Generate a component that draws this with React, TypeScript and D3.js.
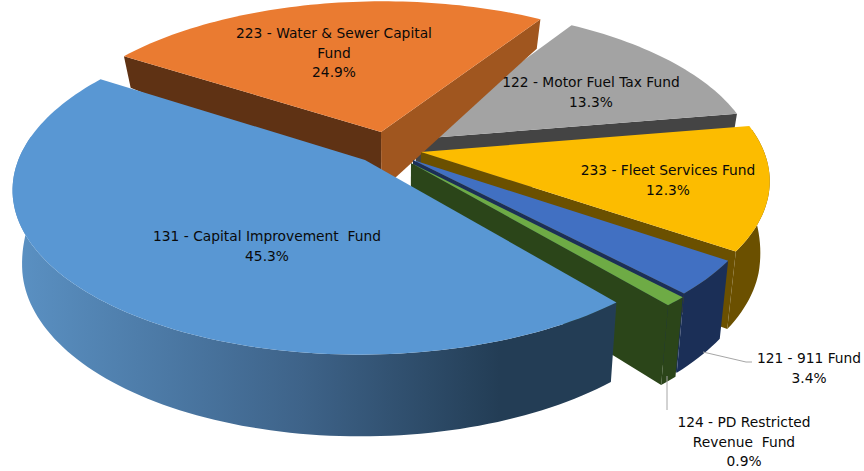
import React from "react";
import * as d3 from "d3";

const names = ["131 - Capital Improvement Fund","223 - Water & Sewer Capital Fund","122 - Motor Fuel Tax Fund","233 - Fleet Services Fund","121 - 911 Fund","124 - PD Restricted Revenue Fund"];
const shares = [45.3, 24.9, 13.3, 12.3, 3.4, 0.9];
const topColors = ["#5997d3", "#ea7b31", "#a3a3a3", "#fcbc00", "#4170c2", "#6eab45"];
const rimColors = ["url(#rimBlue)", "#5f3214", "#444444", "#6b5000", "#1b2f57", "#2b4519"];
const startWall = ["#2b4519", "#5f3214", "#a0561f", "#444444", "#6b5000", "#1b2f57"];
const endWall = ["#2b4519", "#a0561f", "#444444", "#6b5000", "#1b2f57", "#2b4519"];
// screen offset of each exploded slice's tip from the pie centre, and its radius factor
const explodeX = [-28, -12, 23, 28, 20, 18];
const explodeY = [12, -16, -9, 4, 12, 15];
const radiusScale = [1.007, 1, 0.995, 1.005, 1, 1];
const paintOrder = [2, 1, 3, 4, 5, 0];
const labelLines = [
  ["131 - Capital Improvement  Fund", "45.3%"],
  ["223 - Water & Sewer Capital", "Fund", "24.9%"],
  ["122 - Motor Fuel Tax Fund", "13.3%"],
  ["233 - Fleet Services Fund", "12.3%"],
  ["121 - 911 Fund", "3.4%"],
  ["124 - PD Restricted", "Revenue  Fund", "0.9%"],
];
const labelX = [267, 334, 591, 668, 809, 744];
const labelY = [236, 33, 82, 170, 358, 422];

const W = 864, H = 471;
const CX = 393, CY = 148, RX = 340, RY = 157, K = 0.164, SHRINK = 0.025;
const depth = d3.scaleLinear().domain([-1, -0.6, 0, 0.3, 1]).range([29, 32, 64, 75, 81]);

const unproject = (sx: number, sy: number) => {
  const v = sy / (RY + K * sy);
  return [(sx * (1 - K * v)) / RX, v];
};
const top = (u: number, v: number): [number, number] => {
  const w = 1 - K * v;
  return [CX + (RX * u) / w, CY + (RY * v) / w];
};
const bottom = (u: number, v: number): [number, number] => {
  const [x, y] = top(u, v);
  return [CX + (x - CX) * (1 - SHRINK), y + depth(v)];
};

const start = (140 * Math.PI) / 180;
const pie = d3.pie<number>().sort(null).startAngle(start).endAngle(start + 2 * Math.PI);
const arcs = pie(shares);
const line = d3.line<[number, number]>();

const polys = arcs.map((a, i) => {
  const [ox, oy] = unproject(explodeX[i], explodeY[i]);
  const t0 = a.startAngle - Math.PI / 2;
  const t1 = a.endAngle - Math.PI / 2;
  const n = Math.max(2, Math.ceil((t1 - t0) * 40));
  const angles = d3.range(n + 1).map((k) => t0 + ((t1 - t0) * k) / n);
  const pts = angles.map((t) => [ox + radiusScale[i] * Math.cos(t), oy + radiusScale[i] * Math.sin(t)] as [number, number]);
  const topRim = pts.map(([u, v]) => top(u, v));
  const botRim = pts.map(([u, v]) => bottom(u, v));
  const front = d3.range(n + 1).filter((k) => Math.sin(angles[k]) > -0.15);
  const tipT = top(ox, oy);
  const tipB = bottom(ox, oy);
  return {
    top: line([tipT, ...topRim])! + "Z",
    rim: front.length > 1
      ? line([...front.map((k) => topRim[k]), ...front.slice().reverse().map((k) => botRim[k])])! + "Z"
      : null,
    start: Math.cos(t0) < 0 ? line([tipT, topRim[0], botRim[0], tipB])! + "Z" : null,
    end: Math.cos(t1) > 0 ? line([tipT, topRim[n], botRim[n], tipB])! + "Z" : null,
  };
});

export default function App() {
  return (
    <svg width={W} height={H} style={{ position: "absolute", left: 0, top: 0, background: "#fff" }}>
      <defs>
        <linearGradient id="rimBlue" gradientUnits="userSpaceOnUse" x1={20} x2={620} y1={0} y2={0}>
          <stop offset="0" stopColor="#5a90c2" />
          <stop offset="0.47" stopColor="#3e6389" />
          <stop offset="0.8" stopColor="#233d55" />
          <stop offset="1" stopColor="#233d55" />
        </linearGradient>
      </defs>
      {paintOrder.map((i) => (
        <g key={names[i]}>
          {polys[i].rim && <path d={polys[i].rim!} fill={rimColors[i]} />}
          {polys[i].start && <path d={polys[i].start!} fill={startWall[i]} />}
          {polys[i].end && <path d={polys[i].end!} fill={endWall[i]} />}
          <path d={polys[i].top} fill={topColors[i]} />
        </g>
      ))}
      <path d="M703,352L746,362L752,362" fill="none" stroke="#a6a6a6" strokeWidth={1} />
      <path d="M667,376L667,410" fill="none" stroke="#a6a6a6" strokeWidth={1} />
      <g fontFamily="'DejaVu Sans', sans-serif" fontSize={13.8} fill="#0a0a0a" textAnchor="middle">
        {labelLines.map((ls, i) =>
          ls.map((t, j) => (
            <text key={t} x={labelX[i]} y={labelY[i] + j * 19.5 + 5} style={{ whiteSpace: "pre" }}>{t}</text>
          ))
        )}
      </g>
    </svg>
  );
}
